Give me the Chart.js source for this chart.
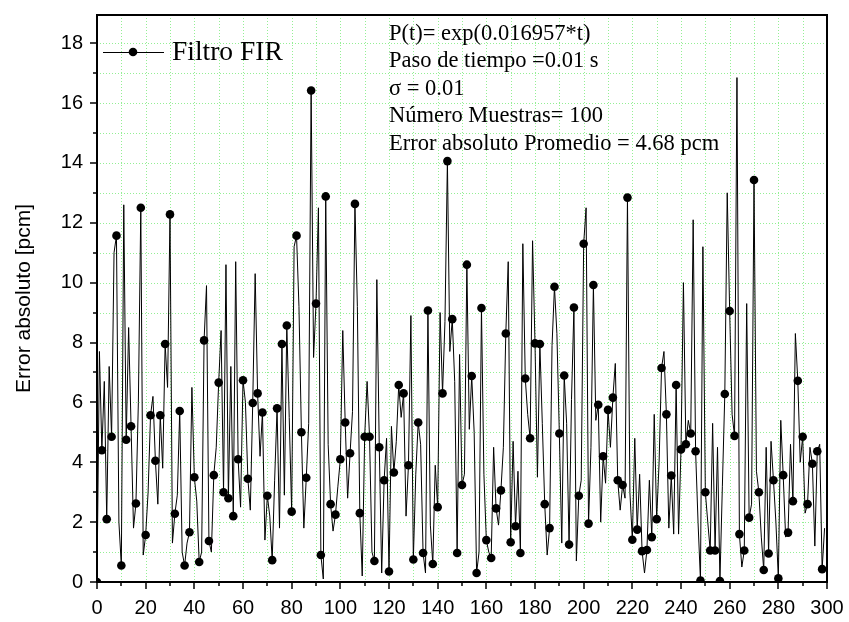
<!DOCTYPE html>
<html>
<head>
<meta charset="utf-8">
<script src="https://cdn.jsdelivr.net/npm/chart.js@4.4.1/dist/chart.umd.min.js"></script>
<style>
  html, body { margin: 0; padding: 0; background: #ffffff; }
  #wrap { width: 849px; height: 622px; }
</style>
</head>
<body>
<div id="wrap"><canvas id="chart" width="849" height="622"></canvas></div>
<script>
// Absolute error of the FIR filter, one value per sample (pcm)
const errorValues = [
  0.0, 7.7, 4.4, 6.7, 2.1, 7.2, 4.85, 11.0, 11.57, 2.0,
  0.55, 12.6, 4.75, 8.5, 5.2, 1.8, 2.62, 6.0, 12.5, 0.9,
  1.57, 3.0, 5.57, 6.2, 4.05, 2.6, 5.57, 3.8, 7.95, 6.5,
  12.28, 1.3, 2.28, 2.9, 5.71, 1.0, 0.55, 1.3, 1.66, 6.5,
  3.5, 2.7, 0.67, 1.0, 8.07, 9.9, 1.37, 1.0, 3.57, 4.5,
  6.66, 8.4, 3.0, 10.6, 2.8, 7.2, 2.2, 10.7, 4.1, 2.5,
  6.74, 6.0, 3.45, 2.4, 5.98, 10.3, 6.3, 4.2, 5.66, 1.4,
  2.88, 2.2, 0.73, 3.4, 5.8, 1.8, 7.95, 2.9, 8.57, 5.5,
  2.35, 11.2, 11.57, 9.2, 5.0, 1.8, 3.48, 5.3, 16.42, 7.5,
  9.3, 12.5, 0.9, 0.1, 12.88, 4.6, 2.6, 1.7, 2.25, 3.2,
  4.1, 8.4, 5.33, 2.8, 4.3, 5.7, 12.63, 9.2, 2.3, 0.2,
  4.85, 6.7, 4.85, 1.0, 0.7, 10.1, 4.5, 0.3, 3.4, 4.8,
  0.35, 5.2, 3.66, 4.7, 6.58, 5.5, 6.3, 2.2, 3.9, 8.9,
  0.75, 3.6, 5.33, 4.6, 0.97, 0.3, 9.07, 1.9, 0.6, 3.9,
  2.5, 9.0, 6.3, 8.7, 14.06, 7.7, 8.78, 6.7, 0.97, 7.6,
  3.24, 3.6, 10.6, 5.1, 6.88, 5.0, 0.3, 1.0, 9.15, 3.6,
  1.4, 1.0, 0.8, 4.5, 2.46, 1.9, 3.06, 4.5, 8.3, 10.7,
  1.33, 4.7, 1.86, 3.7, 0.97, 11.3, 6.8, 5.6, 4.8, 11.4,
  7.97, 3.5, 7.95, 5.3, 2.6, 0.9, 1.8, 7.9, 9.86, 8.3,
  4.96, 1.3, 6.9, 5.3, 1.25, 6.1, 9.17, 0.7, 2.88, 3.4,
  11.3, 12.5, 1.95, 4.5, 9.92, 5.4, 5.92, 2.0, 4.2, 3.3,
  5.75, 4.5, 6.16, 7.3, 3.4, 2.4, 3.24, 2.8, 12.84, 3.0,
  1.41, 4.8, 1.75, 3.6, 1.03, 0.3, 1.07, 3.4, 1.5, 5.6,
  2.1, 4.0, 7.15, 7.7, 5.6, 1.8, 3.56, 1.6, 6.58, 1.6,
  4.43, 10.0, 4.6, 5.4, 4.96, 12.1, 4.37, 2.0, 0.05, 11.2,
  3.0, 2.0, 1.05, 5.3, 1.05, 4.5, 0.03, 3.2, 6.28, 13.0,
  9.05, 5.6, 4.88, 16.85, 1.6, 0.5, 1.05, 9.3, 2.15, 2.6,
  13.43, 3.7, 3.0, 1.5, 0.4, 4.5, 0.95, 4.7, 3.4, 2.0,
  0.12, 5.4, 3.57, 1.5, 1.65, 4.6, 2.7, 8.3, 6.72, 4.0,
  4.85, 2.3, 2.6, 4.5, 3.95, 1.2, 4.37, 4.6, 0.43, 1.8
];

// Axis ticks: labelled (major) and unlabelled (minor) positions
const xMajorTicks = [0, 20, 40, 60, 80, 100, 120, 140, 160, 180, 200, 220, 240, 260, 280, 300];
const xMinorTicks = [10, 30, 50, 70, 90, 110, 130, 150, 170, 190, 210, 230, 250, 270, 290];
const yMajorTicks = [0, 2, 4, 6, 8, 10, 12, 14, 16, 18];
const yMinorTicks = [1, 3, 5, 7, 9, 11, 13, 15, 17];

const seriesName = 'Filtro FIR';
const yAxisTitle = 'Error absoluto [pcm]';
const infoLines = [
  'P(t)= exp(0.016957*t)',
  'Paso de tiempo =0.01 s',
  '\u03C3 = 0.01',
  'N\u00FAmero Muestras= 100',
  'Error absoluto Promedio = 4.68 pcm'
];

const points = errorValues.map((v, i) => ({ x: i, y: v }));
const allXTicks = xMajorTicks.concat(xMinorTicks).sort((a, b) => a - b);
const allYTicks = yMajorTicks.concat(yMinorTicks).sort((a, b) => a - b);

// Dotted green grid behind the data
const gridPlugin = {
  id: 'dottedGrid',
  beforeDatasetsDraw(chart) {
    const { ctx, chartArea: a, scales: { x, y } } = chart;
    ctx.save();
    ctx.strokeStyle = 'rgba(60, 225, 60, 0.55)';
    ctx.lineWidth = 1;
    ctx.setLineDash([1, 2]);
    allXTicks.forEach(v => {
      const px = Math.round(x.getPixelForValue(v)) + 0.5;
      if (px <= a.left + 1 || px >= a.right - 1) return;
      ctx.beginPath(); ctx.moveTo(px, a.top); ctx.lineTo(px, a.bottom); ctx.stroke();
    });
    allYTicks.forEach(v => {
      const py = Math.round(y.getPixelForValue(v)) + 0.5;
      if (py <= a.top + 1 || py >= a.bottom - 1) return;
      ctx.beginPath(); ctx.moveTo(a.left, py); ctx.lineTo(a.right, py); ctx.stroke();
    });
    ctx.restore();
  }
};

// Frame, outward tick marks, legend and the text block
const framePlugin = {
  id: 'frameAndText',
  afterDatasetsDraw(chart) {
    const { ctx, chartArea: a, scales: { x, y } } = chart;
    ctx.save();
    ctx.setLineDash([]);
    ctx.strokeStyle = '#000';
    ctx.lineWidth = 2;
    ctx.strokeRect(a.left, a.top, a.right - a.left, a.bottom - a.top);

    ctx.lineWidth = 1.5;
    const tick = (vals, len, axis) => {
      vals.forEach(v => {
        ctx.beginPath();
        if (axis === 'x') {
          const px = Math.round(x.getPixelForValue(v));
          ctx.moveTo(px, a.bottom); ctx.lineTo(px, a.bottom + len);
        } else {
          const py = Math.round(y.getPixelForValue(v));
          ctx.moveTo(a.left, py); ctx.lineTo(a.left - len, py);
        }
        ctx.stroke();
      });
    };
    tick(xMajorTicks, 7, 'x');
    tick(xMinorTicks, 4, 'x');
    tick(yMajorTicks, 7, 'y');
    tick(yMinorTicks, 4, 'y');

    // legend sample: line with a marker
    const ly = 52;
    ctx.lineWidth = 1;
    ctx.beginPath(); ctx.moveTo(103, ly + 0.5); ctx.lineTo(164, ly + 0.5); ctx.stroke();
    ctx.fillStyle = '#000';
    ctx.beginPath(); ctx.arc(133, ly, 4.3, 0, Math.PI * 2); ctx.fill();
    ctx.font = '27.5px "Liberation Serif", "Times New Roman", serif';
    ctx.textBaseline = 'middle';
    ctx.textAlign = 'left';
    ctx.fillText(seriesName, 172, ly + 1);

    // info text block
    ctx.font = '22.5px "Liberation Serif", "Times New Roman", serif';
    infoLines.forEach((t, i) => {
      ctx.fillText(t, 389, 34 + i * 27.4);
    });
    ctx.restore();
  }
};

new Chart(document.getElementById('chart'), {
  type: 'line',
  data: {
    datasets: [{
      label: seriesName,
      data: points,
      borderColor: '#000',
      borderWidth: 1,
      backgroundColor: '#000',
      pointBackgroundColor: '#000',
      pointBorderColor: '#000',
      pointBorderWidth: 0,
      pointRadius: ctx => (ctx.dataIndex % 2 === 0 ? 4.3 : 0),
      pointHoverRadius: 0,
      tension: 0,
      fill: false
    }]
  },
  options: {
    responsive: false,
    animation: false,
    devicePixelRatio: 1,
    layout: { padding: { left: 0, top: 15, right: 22, bottom: 0 } },
    plugins: {
      legend: { display: false },
      tooltip: { enabled: false }
    },
    scales: {
      x: {
        type: 'linear',
        min: 0,
        max: 300,
        afterFit: s => {
          s.height = 40;
          s.paddingLeft = 0; s.paddingRight = 0;
        },
        afterBuildTicks: s => { s.ticks = allXTicks.map(v => ({ value: v })); },
        grid: { display: false, drawTicks: false },
        border: { display: false },
        ticks: {
          autoSkip: false,
          maxRotation: 0,
          padding: 14,
          color: '#000',
          font: { family: '"Liberation Sans", Arial, sans-serif', size: 20 },
          callback: v => (xMajorTicks.includes(v) ? String(v) : '')
        }
      },
      y: {
        type: 'linear',
        min: 0,
        max: 18.94,
        afterFit: s => {
          s.width = 97;
          s.paddingTop = 0; s.paddingBottom = 0;
        },
        afterBuildTicks: s => { s.ticks = allYTicks.map(v => ({ value: v })); },
        grid: { display: false, drawTicks: false },
        border: { display: false },
        ticks: {
          autoSkip: false,
          padding: 14,
          color: '#000',
          font: { family: '"Liberation Sans", Arial, sans-serif', size: 20 },
          callback: v => (yMajorTicks.includes(v) ? String(v) : '')
        },
        title: {
          display: true,
          text: yAxisTitle,
          color: '#000',
          padding: { top: 12, bottom: 0 },
          font: { family: '"Liberation Sans", Arial, sans-serif', size: 21 }
        }
      }
    }
  },
  plugins: [gridPlugin, framePlugin]
});
</script>
</body>
</html>
